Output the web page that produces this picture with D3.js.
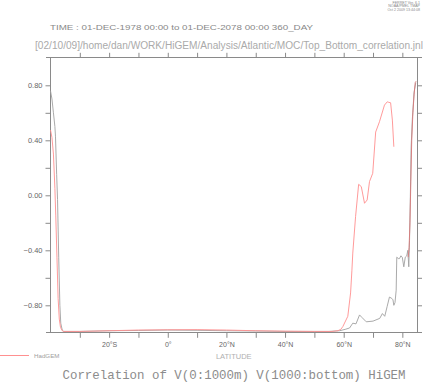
<!DOCTYPE html>
<html><head><meta charset="utf-8">
<script src="https://cdn.jsdelivr.net/npm/d3@7"></script>
<style>html,body{margin:0;padding:0;background:#fff;}svg{display:block;}</style>
</head><body>
<svg id="chart" width="440" height="383"></svg>
<script>
// ---- data ----
const higemLat = [-40,-39.5,-39,-38.5,-38.3,-37.9,-37.6,-37.2,-36.8,-36.5,-36,-35.5,-30,-20,-10,0,10,20,30,40,50,55,58.6,60.5,62,63.1,64.2,65.4,66.3,67.7,70,72.3,73.2,74,74.8,75.6,76.4,76.8,77.1,77.5,77.9,78.1,78.6,79.05,79.5,79.97,80.5,81,81.5,81.87,82.2,82.45,82.7,83,83.4,84,84.6];
const higemVal = [0.76,0.70,0.60,0.50,0.43,0.15,-0.03,-0.45,-0.80,-0.93,-0.98,-0.99,-0.99,-0.985,-0.983,-0.98,-0.982,-0.985,-0.987,-0.99,-0.99,-0.99,-0.985,-0.975,-0.965,-0.93,-0.935,-0.87,-0.89,-0.92,-0.915,-0.895,-0.86,-0.88,-0.81,-0.74,-0.75,-0.76,-0.80,-0.78,-0.69,-0.45,-0.46,-0.46,-0.44,-0.45,-0.52,-0.45,-0.44,-0.40,-0.52,-0.33,-0.05,0.35,0.55,0.75,0.82];
const hadgemLat = [-40,-39.5,-39,-38.5,-38.2,-37.8,-37.4,-37,-36.6,-36,-35.5,-30,-20,-10,0,10,20,30,40,50,56,58,59,59.7,61.4,62.35,62.8,63.1,64.05,65.1,66,67.1,68,68.8,69.9,70.9,72.2,73.9,74.85,75.4,76,76.6,77.1];
const hadgemVal = [0.475,0.42,0.30,0.05,-0.15,-0.45,-0.75,-0.90,-0.96,-0.985,-0.99,-0.99,-0.985,-0.98,-0.978,-0.977,-0.98,-0.985,-0.988,-0.99,-0.99,-0.985,-0.975,-0.955,-0.88,-0.71,-0.545,-0.42,-0.155,0.08,0.063,-0.058,-0.034,0.10,0.16,0.46,0.535,0.656,0.68,0.676,0.673,0.547,0.353];
const hadgemLat2 = [82.0,82.3,82.6,82.9,83.2,83.6,84.0,84.4,84.7];
const hadgemVal2 = [-0.45,-0.38,-0.2,0.1,0.4,0.6,0.73,0.82,0.83];
const xTickLabels = {"-20":"20°S","0":"0°","20":"20°N","40":"40°N","60":"60°N","80":"80°N"};
const xTicks = [-30,-20,-10,0,10,20,30,40,50,60,70,80];
const yTicks = [-0.8,-0.6,-0.4,-0.2,0,0.2,0.4,0.6,0.8];
const yLabelTicks = [-0.8,-0.4,0,0.4,0.8];
const titleLine1 = "TIME : 01-DEC-1978 00:00 to 01-DEC-2078 00:00 360_DAY";
const titleLine2 = "[02/10/09]/home/dan/WORK/HiGEM/Analysis/Atlantic/MOC/Top_Bottom_correlation.jnl";
const bottomTitle = "Correlation of V(0:1000m) V(1000:bottom) HiGEM";
const stamp = ["FERRET Ver. 6.1","NOAA/PMEL TMAP","Oct  2 2009 13:44:08"];

// ---- drawing ----
const svg = d3.select("#chart");
svg.append("rect").attr("width",440).attr("height",383).attr("fill","#fff");
const x = d3.scaleLinear().domain([-40,85]).range([50.5,417]);
const y = d3.scaleLinear().domain([-1,1]).range([332.8,57.8]);
const axisCol = "#8a8a8a";
const font = "Liberation Sans, Arial, sans-serif";

function styleAxis(g){
  g.select(".domain").remove();
  g.selectAll(".tick line").attr("stroke",axisCol);
  g.selectAll(".tick text").attr("fill","#666").attr("font-family",font);
}
// frame lines
const fr = svg.append("g").attr("stroke",axisCol).attr("stroke-width",1).attr("shape-rendering","crispEdges");
fr.append("line").attr("x1",x(-40)-5).attr("x2",x(85)+5).attr("y1",y(-1)).attr("y2",y(-1));
fr.append("line").attr("x1",x(-40)-5).attr("x2",x(85)+5).attr("y1",y(1)).attr("y2",y(1));
fr.append("line").attr("x1",x(-40)).attr("x2",x(-40)).attr("y1",y(1)).attr("y2",y(-1));
fr.append("line").attr("x1",x(85)).attr("x2",x(85)).attr("y1",y(1)).attr("y2",y(-1));

svg.append("g").attr("transform",`translate(0,${y(-1)})`)
  .call(d3.axisBottom(x).tickValues(xTicks).tickSize(5).tickPadding(4)
    .tickFormat(d => xTickLabels[String(d)] || ""))
  .call(styleAxis).call(g=>g.selectAll(".tick text").attr("font-size",7));
svg.append("g").attr("transform",`translate(0,${y(1)})`)
  .call(d3.axisTop(x).tickValues(xTicks).tickSize(5).tickFormat(""))
  .call(styleAxis);
svg.append("g").attr("transform",`translate(${x(-40)},0)`)
  .call(d3.axisLeft(y).tickValues(yTicks).tickSize(5).tickPadding(3)
    .tickFormat(d => yLabelTicks.some(v=>Math.abs(v-d)<1e-9) ? d3.format(".2f")(d).replace("-","\u2212") : ""))
  .call(styleAxis).call(g=>g.selectAll(".tick text").attr("font-size",7.5));
svg.append("g").attr("transform",`translate(${x(85)},0)`)
  .call(d3.axisRight(y).tickValues(yTicks).tickSize(5).tickFormat(""))
  .call(styleAxis);

const line = d3.line().x(d=>x(d[0])).y(d=>y(d[1]));
svg.append("path").datum(d3.zip(higemLat,higemVal)).attr("d",line)
  .attr("fill","none").attr("stroke","#a0a0a0").attr("stroke-width",0.9);
svg.append("path").datum(d3.zip(hadgemLat,hadgemVal)).attr("d",line)
  .attr("fill","none").attr("stroke","#ff8e8e").attr("stroke-width",0.9);
svg.append("path").datum(d3.zip(hadgemLat2,hadgemVal2)).attr("d",line)
  .attr("fill","none").attr("stroke","#d87878").attr("stroke-width",0.9);

// texts
svg.append("text").attr("x",50).attr("y",30).attr("font-family",font).attr("font-size",8)
  .attr("fill","#888").attr("textLength",263).attr("lengthAdjust","spacingAndGlyphs").text(titleLine1);
svg.append("text").attr("x",35).attr("y",49).attr("font-family",font).attr("font-size",10)
  .attr("fill","#aaa").attr("textLength",388).attr("lengthAdjust","spacingAndGlyphs").text(titleLine2);
stamp.forEach((s,i)=>svg.append("text").attr("x",420).attr("y",3.5+i*3.5).attr("text-anchor","end")
  .attr("font-family",font).attr("font-size",3.6).attr("fill","#888").text(s));
svg.append("text").attr("x",(x(-40)+x(85))/2).attr("y",358.5).attr("text-anchor","middle")
  .attr("font-family",font).attr("font-size",7.5).attr("fill","#b0b0b0").text("LATITUDE");
svg.append("text").attr("x",62.5).attr("y",379).attr("font-family","Liberation Mono, Courier New, monospace")
  .attr("font-size",13).attr("fill","#8c8c8c").attr("textLength",343).attr("lengthAdjust","spacingAndGlyphs").text(bottomTitle);
// legend
svg.append("rect").attr("x",0).attr("y",355).attr("width",29).attr("height",1).attr("fill","#ff9090");
svg.append("text").attr("x",34).attr("y",357.5).attr("font-family",font).attr("font-size",6.2).attr("fill","#a0a0a0").text("HadGEM");
</script>
</body></html>
